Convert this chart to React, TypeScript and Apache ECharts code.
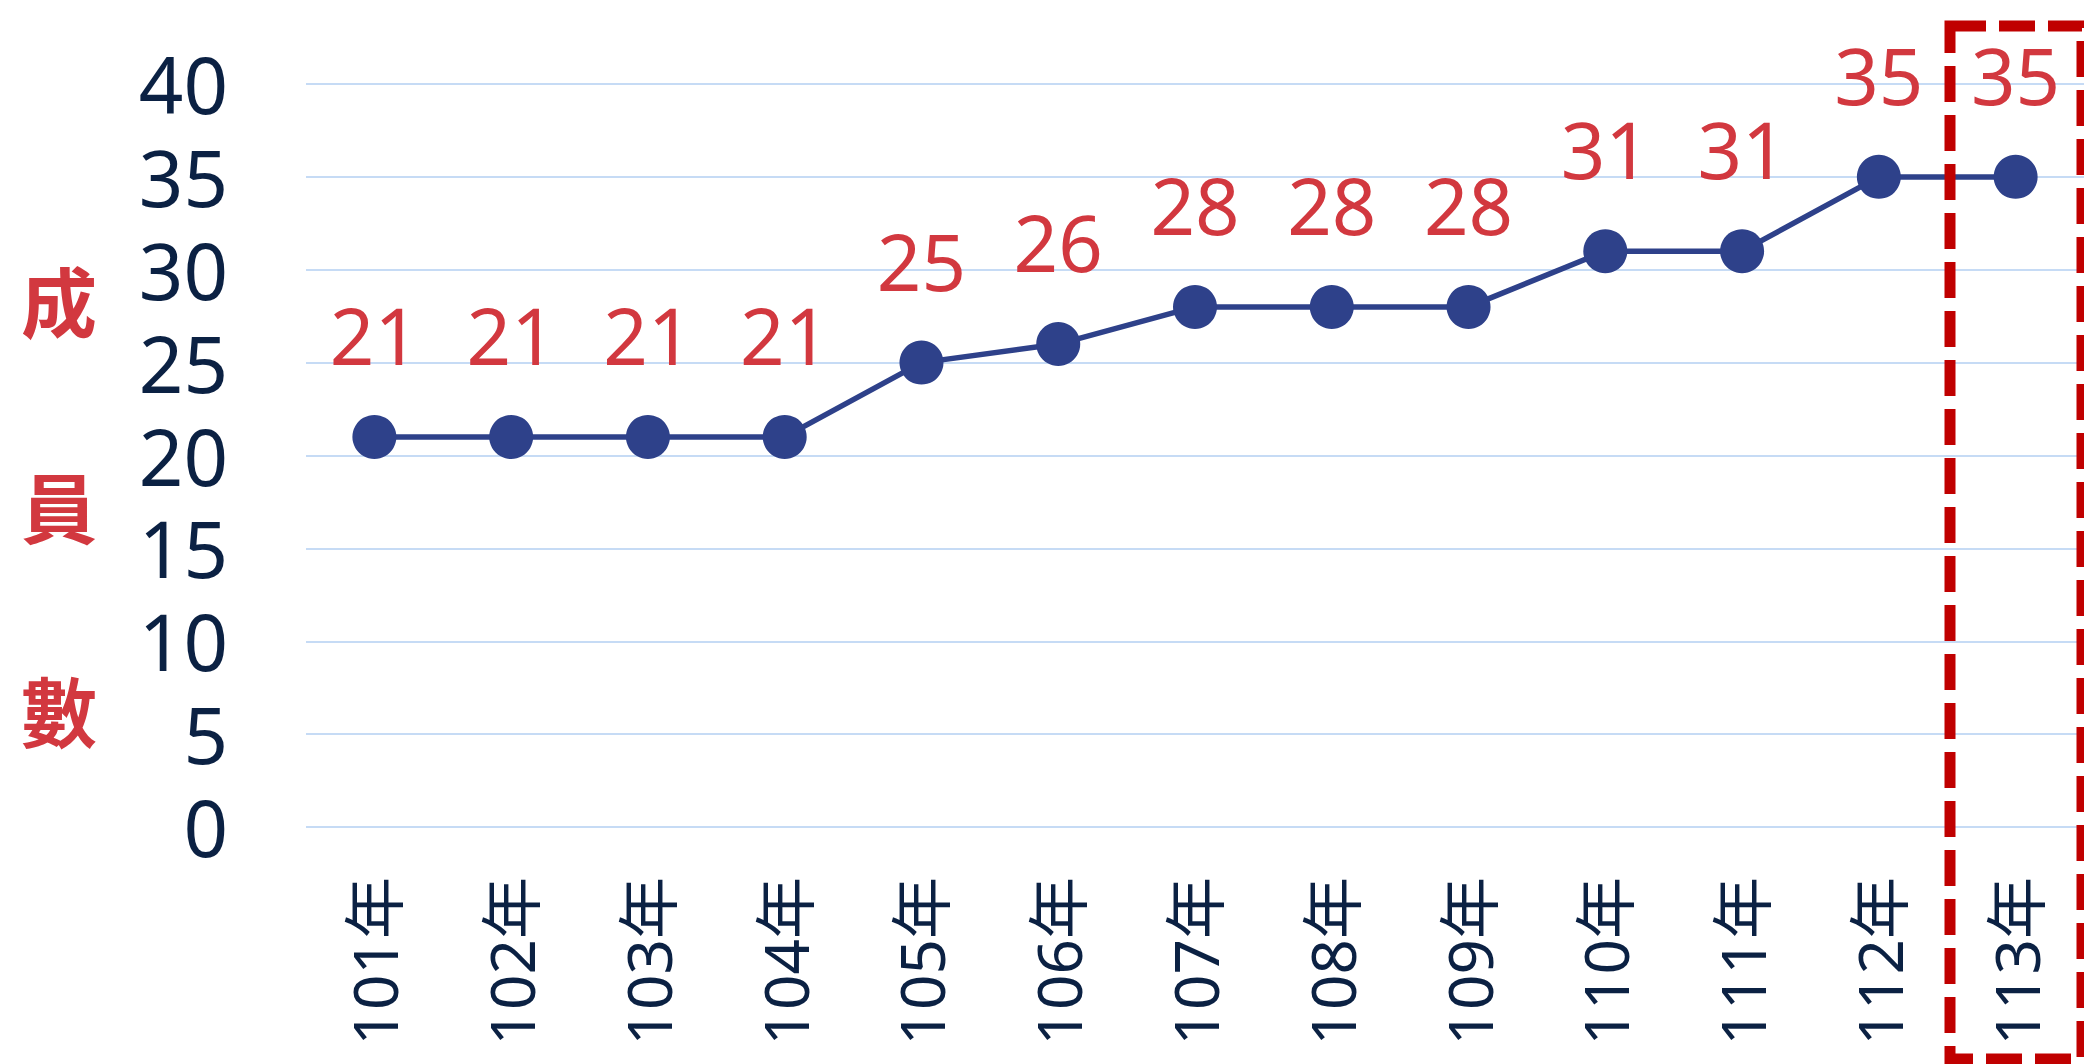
import React, { useEffect, useRef } from "react";
import * as echarts from "echarts";

const years = ["101年", "102年", "103年", "104年", "105年", "106年", "107年", "108年", "109年", "110年", "111年", "112年", "113年"];
const members = [21, 21, 21, 21, 25, 26, 28, 28, 28, 31, 31, 35, 35];
const yMin = 0;
const yMax = 40;
const yStep = 5;
const titleChars = ["成", "員", "數"];

const FONT = "'Noto Sans', 'Noto Sans CJK TC', sans-serif";

export default function App() {
  const ref = useRef<HTMLDivElement>(null);
  useEffect(() => {
    if (!ref.current) return;
    const chart = echarts.init(ref.current, null, { renderer: "svg" });
    const titleY = [299, 505, 709];
    chart.setOption({
      animation: false,
      backgroundColor: "#ffffff",
      grid: { left: 306, right: 0, top: 84, bottom: 237, containLabel: false },
      xAxis: {
        type: "category",
        data: years,
        boundaryGap: true,
        axisLine: { show: false },
        axisTick: { show: false },
        axisLabel: {
          rotate: 90,
          margin: 50,
          fontSize: 62,
          lineHeight: 62,
          color: "#0b2143",
          fontFamily: FONT,
        },
      },
      yAxis: {
        type: "value",
        min: yMin,
        max: yMax,
        interval: yStep,
        axisLine: { show: false },
        axisTick: { show: false },
        splitLine: { lineStyle: { color: "#c6dbf5", width: 2 } },
        axisLabel: {
          margin: 78,
          fontSize: 78,
          lineHeight: 70,
          color: "#0b2143",
          fontFamily: FONT,
        },
      },
      series: [
        {
          type: "line",
          data: members,
          symbol: "circle",
          symbolSize: 44,
          lineStyle: { color: "#2e418a", width: 5.5 },
          itemStyle: { color: "#2e418a" },
          label: {
            show: true,
            position: "top",
            distance: 45,
            fontSize: 78,
            lineHeight: 70,
            color: "#d2383f",
            fontFamily: FONT,
          },
        },
      ],
      graphic: [
        ...titleChars.map((c, i) => ({
          type: "text",
          x: 59,
          y: titleY[i],
          style: {
            text: c,
            fontSize: 76,
            fontWeight: "bold",
            fill: "#d2383f",
            fontFamily: "'Noto Sans CJK TC', sans-serif",
            align: "center",
            verticalAlign: "middle",
          },
        })),
        {
          type: "rect",
          shape: { x: 1950, y: 26, width: 132, height: 1033 },
          style: { fill: "none", stroke: "#c00000", lineWidth: 11, lineDash: [36, 13] },
          z: 100,
        },
      ],
    });
    return () => chart.dispose();
  }, []);
  return (
    <div
      ref={ref}
      style={{ position: "fixed", left: 0, top: 0, width: 2084, height: 1064 }}
    />
  );
}
